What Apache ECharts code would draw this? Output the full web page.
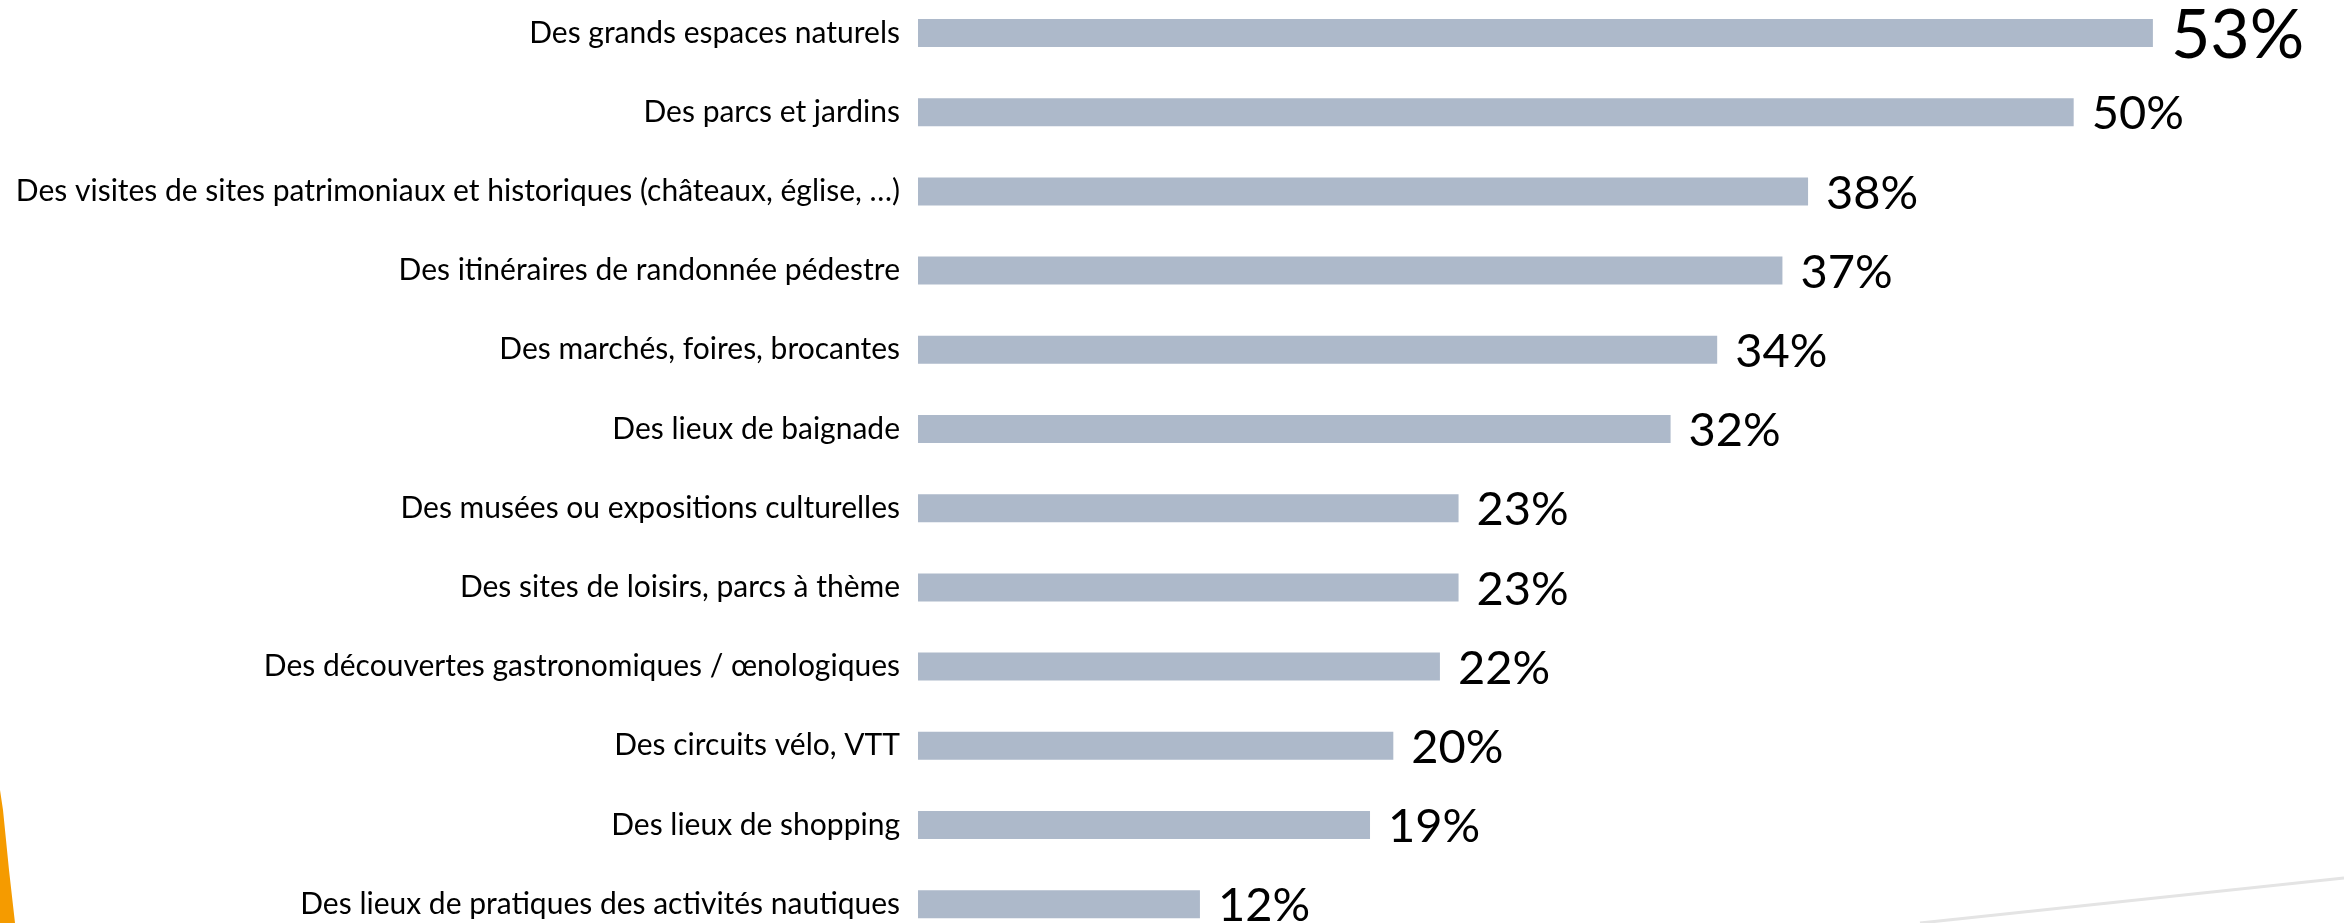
<!DOCTYPE html>
<html>
<head>
<meta charset="utf-8">
<title>Activités recherchées</title>
<script src="https://cdn.jsdelivr.net/npm/echarts@6/dist/echarts.min.js"></script>
<style>
  html, body { margin: 0; padding: 0; background: #fff; overflow: hidden; }
  body { width: 2344px; height: 923px; position: relative; }
  /* le graphique dépasse un peu en haut et en bas, comme la capture */
  #chart { position: absolute; left: 0; top: -8px; width: 2344px; height: 960px; }
</style>
</head>
<body>
<div id="chart"></div>
<script>
  // catégories, de haut en bas
  const categories = [
    'Des grands espaces naturels',
    'Des parcs et jardins',
    'Des visites de sites patrimoniaux et historiques (châteaux, église, …)',
    'Des itinéraires de randonnée pédestre',
    'Des marchés, foires, brocantes',
    'Des lieux de baignade',
    'Des musées ou expositions culturelles',
    'Des sites de loisirs, parcs à thème',
    'Des découvertes gastronomiques / œnologiques',
    'Des circuits vélo, VTT',
    'Des lieux de shopping',
    'Des lieux de pratiques des activités nautiques'
  ]
  // longueurs des barres (en %)
  const values = [53.0, 49.6, 38.2, 37.1, 34.3, 32.3, 23.2, 23.2, 22.4, 20.4, 19.4, 12.1]

  const chart = echarts.init(document.getElementById('chart'))
  const dy = 8 // décalage du conteneur

  const seriesData = values.map((v, i) => {
    const item = { value: v }
    if (i === 0) {
      // la première étiquette est plus grande
      item.label = { fontSize: 68, offset: [0, 3] }
    }
    return item
  })

  chart.setOption({
    animation: false,
    grid: {
      left: 918,
      width: 1398,
      top: 1.4,
      height: 950.4
    },
    xAxis: {
      type: 'value',
      min: 0,
      max: 60,
      show: false
    },
    yAxis: {
      type: 'category',
      inverse: true,
      data: categories,
      axisLine: { show: false },
      axisTick: { show: false },
      axisLabel: {
        margin: 18,
        color: '#000',
        fontFamily: 'Lato',
        fontSize: 30
      }
    },
    series: [{
      type: 'bar',
      data: seriesData,
      barWidth: 28,
      itemStyle: { color: '#ADB9CA' },
      label: {
        show: true,
        position: 'right',
        distance: 18,
        offset: [0, 2],
        color: '#000',
        fontFamily: 'Lato',
        fontSize: 47,
        formatter: p => Math.round(p.value) + '%'
      }
    }],
    graphic: [
      {
        type: 'polygon',
        silent: true,
        shape: { points: [[0, 790 + dy], [3, 810 + dy], [9, 870 + dy], [15, 923 + dy], [0, 923 + dy]] },
        style: { fill: '#F59B00' }
      },
      {
        type: 'line',
        silent: true,
        shape: { x1: 1920, y1: 923 + dy, x2: 2344, y2: 878 + dy },
        style: { stroke: '#E4E4E4', lineWidth: 3 }
      }
    ]
  })
</script>
</body>
</html>
